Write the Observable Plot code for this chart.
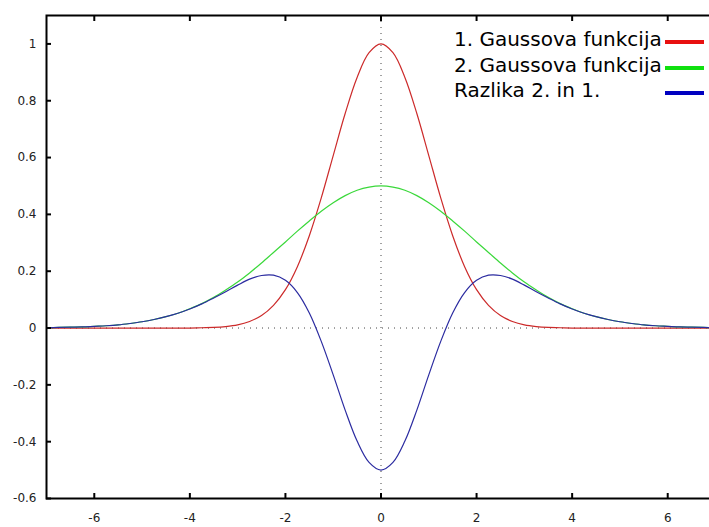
<!DOCTYPE html>
<html>
<head>
<meta charset="utf-8">
<script src="https://cdn.jsdelivr.net/npm/d3@7"></script>
<script src="https://cdn.jsdelivr.net/npm/@observablehq/plot@0.6"></script>
<style>
  html, body { margin: 0; padding: 0; background: #fff; overflow: hidden; }
  #wrap { position: relative; width: 709px; height: 527px; overflow: hidden; }
  #chart { width: 715px; }
  #chart svg { max-width: none !important; width: 715px !important; height: 527px !important; display: block; }
  #legend { position: absolute; left: 454px; top: 27px; font-family: "DejaVu Sans", sans-serif; font-size: 20px; color: #000; }
  .row { position: relative; height: 25.5px; line-height: 25.5px; white-space: nowrap; }
  .sw { position: absolute; left: 211px; top: 13px; width: 39px; height: 4px; }
</style>
</head>
<body>
<div id="wrap"><div id="chart"></div><div id="legend"></div></div>
<script>
const seriesNames = ["1. Gaussova funkcija", "2. Gaussova funkcija", "Razlika 2. in 1."];
const curveColors = ["#cc2a2a", "#3ad83a", "#2b2ba0"];
const legendColors = ["#e81010", "#10e010", "#0000c0"];

const xs = [-7,-6.75,-6.5,-6.25,-6,-5.75,-5.5,-5.25,-5,-4.75,-4.5,-4.25,-4,-3.75,-3.5,-3.25,-3,-2.75,-2.5,-2.25,-2,-1.75,-1.5,-1.25,-1,-0.75,-0.5,-0.25,0,
  0.25,0.5,0.75,1,1.25,1.5,1.75,2,2.25,2.5,2.75,3,3.25,3.5,3.75,4,4.25,4.5,4.75,5,5.25,5.5,5.75,6,6.25,6.5,6.75,7];

const gauss1 = [0,0,0,0,0,0,0,0,0,0,0,0,0,0.001,0.002,0.005,0.011,0.023,0.044,0.080,0.135,0.216,0.325,0.458,0.607,0.755,0.882,0.969,1.000,
  0.969,0.882,0.755,0.607,0.458,0.325,0.216,0.135,0.080,0.044,0.023,0.011,0.005,0.002,0.001,0,0,0,0,0,0,0,0,0,0,0,0,0];

const gauss2 = [0.001,0.002,0.003,0.004,0.006,0.008,0.011,0.016,0.022,0.030,0.040,0.052,0.068,0.086,0.108,0.134,0.162,0.194,0.229,0.266,0.303,0.341,0.377,0.411,0.441,0.466,0.485,0.496,0.500,
  0.496,0.485,0.466,0.441,0.411,0.377,0.341,0.303,0.266,0.229,0.194,0.162,0.134,0.108,0.086,0.068,0.052,0.040,0.030,0.022,0.016,0.011,0.008,0.006,0.004,0.003,0.002,0.001];

const razlika = [0.001,0.002,0.003,0.004,0.006,0.008,0.011,0.016,0.022,0.030,0.040,0.052,0.067,0.085,0.106,0.128,0.151,0.172,0.185,0.186,0.168,0.125,0.053,-0.047,-0.165,-0.289,-0.398,-0.473,-0.500,
  -0.473,-0.398,-0.289,-0.165,-0.047,0.053,0.125,0.168,0.186,0.185,0.172,0.151,0.128,0.106,0.085,0.067,0.052,0.040,0.030,0.022,0.016,0.011,0.008,0.006,0.004,0.003,0.002,0.001];

const xTicks = [-6,-4,-2,0,2,4,6];
const yTicks = [-0.6,-0.4,-0.2,0,0.2,0.4,0.6,0.8,1];

const seriesValues = [gauss1, gauss2, razlika];
const rows = [];
seriesValues.forEach((vals, s) => vals.forEach((v, i) => rows.push({x: xs[i], y: v, s})));

const chart = Plot.plot({
  width: 715,
  height: 527,
  marginLeft: 46,
  marginRight: 0,
  marginTop: 15,
  marginBottom: 29,
  style: {fontFamily: "DejaVu Sans, sans-serif", fontSize: "12px", color: "#222", background: "#fff"},
  x: {domain: [-7, 7]},
  y: {domain: [-0.6, 1.1]},
  marks: [
    Plot.ruleY([0], {stroke: "#444", strokeDasharray: "1,5", strokeWidth: 1}),
    Plot.ruleX([0], {stroke: "#444", strokeDasharray: "1,5", strokeWidth: 1}),
    ...seriesValues.map((_, s) =>
      Plot.line(rows.filter(d => d.s === s), {x: "x", y: "y", stroke: curveColors[s], strokeWidth: 1.2, curve: "catmull-rom"})
    ),
    Plot.axisX({anchor: "bottom", ticks: xTicks, tickSize: -5, tickPadding: 20, tickFormat: d => String(d), label: null, stroke: "#000", strokeWidth: 2}),
    Plot.axisX({anchor: "top", ticks: xTicks, tickSize: -5, tickFormat: () => "", label: null, stroke: "#000", strokeWidth: 2}),
    Plot.axisY({anchor: "left", ticks: yTicks, tickSize: -5, tickPadding: 15, tickFormat: d => String(d), label: null, stroke: "#000", strokeWidth: 2}),
    Plot.frame({stroke: "#000", strokeWidth: 2})
  ]
});
document.getElementById("chart").appendChild(chart);

const legend = document.getElementById("legend");
seriesNames.forEach((name, s) => {
  const row = document.createElement("div");
  row.className = "row";
  row.textContent = name;
  const sw = document.createElement("div");
  sw.className = "sw";
  sw.style.background = legendColors[s];
  row.appendChild(sw);
  legend.appendChild(row);
});
</script>
</body>
</html>
